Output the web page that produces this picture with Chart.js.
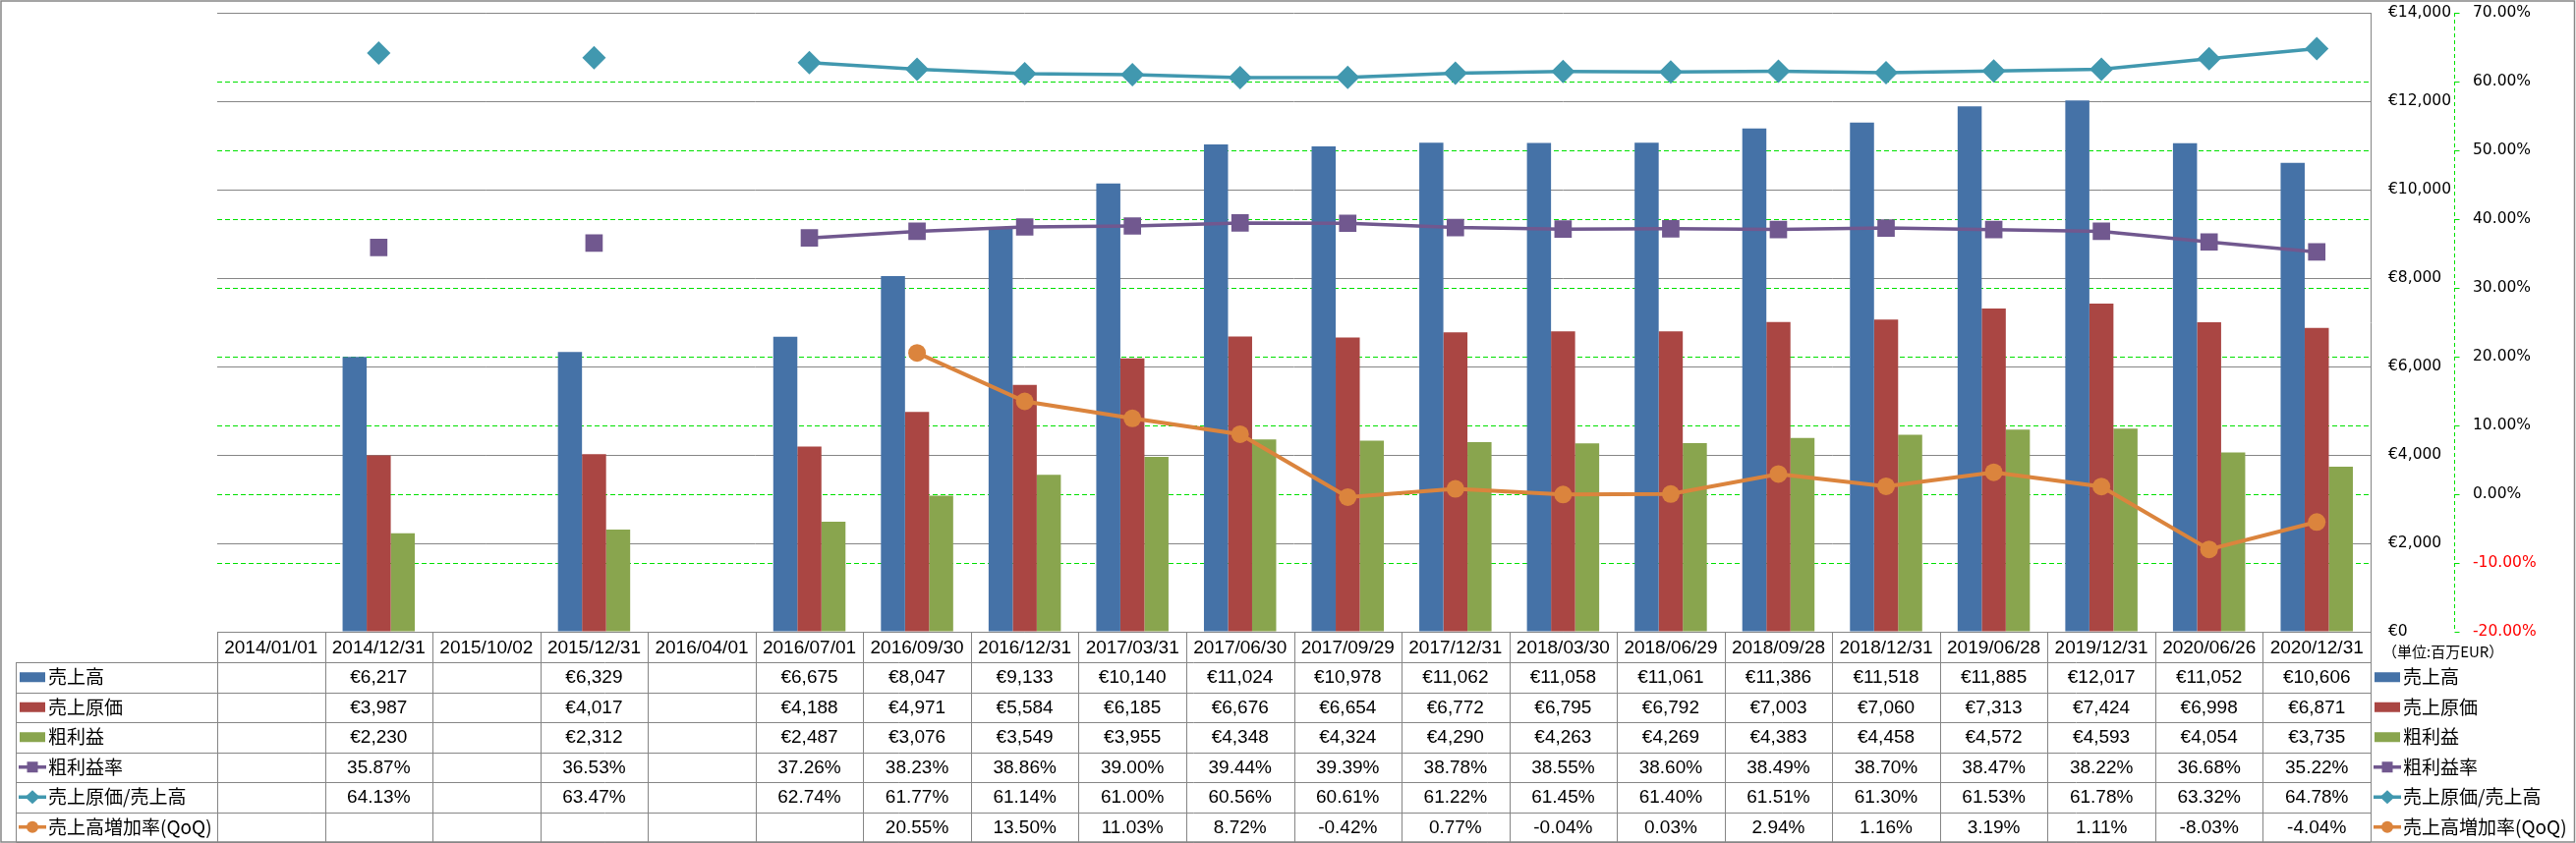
<!DOCTYPE html>
<html><head><meta charset="utf-8">
<script src="https://cdn.jsdelivr.net/npm/chart.js@4"></script>
<style>html,body{margin:0;padding:0;background:#fff;overflow:hidden}canvas{display:block}</style>
</head><body>
<canvas id="c" width="2621" height="858"></canvas>
<script>
const categories = ['2014/01/01','2014/12/31','2015/10/02','2015/12/31','2016/04/01','2016/07/01','2016/09/30','2016/12/31','2017/03/31','2017/06/30','2017/09/29','2017/12/31','2018/03/30','2018/06/29','2018/09/28','2018/12/31','2019/06/28','2019/12/31','2020/06/26','2020/12/31'];
const sales       = [null,6217,null,6329,null,6675,8047,9133,10140,11024,10978,11062,11058,11061,11386,11518,11885,12017,11052,10606];
const costOfSales = [null,3987,null,4017,null,4188,4971,5584,6185,6676,6654,6772,6795,6792,7003,7060,7313,7424,6998,6871];
const grossProfit = [null,2230,null,2312,null,2487,3076,3549,3955,4348,4324,4290,4263,4269,4383,4458,4572,4593,4054,3735];
const grossMargin = [null,35.87,null,36.53,null,37.26,38.23,38.86,39.00,39.44,39.39,38.78,38.55,38.60,38.49,38.70,38.47,38.22,36.68,35.22];
const costRatio   = [null,64.13,null,63.47,null,62.74,61.77,61.14,61.00,60.56,60.61,61.22,61.45,61.40,61.51,61.30,61.53,61.78,63.32,64.78];
const salesQoQ    = [null,null,null,null,null,null,20.55,13.50,11.03,8.72,-0.42,0.77,-0.04,0.03,2.94,1.16,3.19,1.11,-8.03,-4.04];
const seriesNames = ['売上高','売上原価','粗利益','粗利益率','売上原価/売上高','売上高増加率(QoQ)'];
const unitLabel = '（単位:百万EUR）';

const BLUE='#4572A7', RED='#AA4643', GREEN='#89A54E', PURPLE='#71588F', TEAL='#4198AF', ORANGE='#DB843D';
const GRID='#868686', DASHGREEN='#00E000';
const fmtMoney = v => '€' + v.toLocaleString('en-US');
const fmtPct = v => v.toFixed(2) + '%';

const rows = [
  {name:seriesNames[0], data:sales, fmt:fmtMoney, color:BLUE, kind:'bar'},
  {name:seriesNames[1], data:costOfSales, fmt:fmtMoney, color:RED, kind:'bar'},
  {name:seriesNames[2], data:grossProfit, fmt:fmtMoney, color:GREEN, kind:'bar'},
  {name:seriesNames[3], data:grossMargin, fmt:fmtPct, color:PURPLE, kind:'square'},
  {name:seriesNames[4], data:costRatio, fmt:fmtPct, color:TEAL, kind:'diamond'},
  {name:seriesNames[5], data:salesQoQ, fmt:fmtPct, color:ORANGE, kind:'circle'}
];

function drawKey(ctx, row, x, cy) {
  ctx.save();
  ctx.fillStyle = row.color; ctx.strokeStyle = row.color;
  if (row.kind === 'bar') {
    ctx.fillRect(x, cy - 5, 26, 10);
  } else {
    ctx.lineWidth = 3.5;
    ctx.beginPath(); ctx.moveTo(x - 1, cy); ctx.lineTo(x + 27, cy); ctx.stroke();
    const mx = x + 13;
    ctx.beginPath();
    if (row.kind === 'square') { ctx.rect(mx - 5.5, cy - 5.5, 11, 11); }
    else if (row.kind === 'diamond') { ctx.moveTo(mx, cy - 7); ctx.lineTo(mx + 7.5, cy); ctx.lineTo(mx, cy + 7); ctx.lineTo(mx - 7.5, cy); ctx.closePath(); }
    else { ctx.arc(mx, cy, 6, 0, Math.PI * 2); }
    ctx.fill();
  }
  ctx.restore();
}

const tablePlugin = {
  id: 'dataTable',
  afterDraw(chart) {
    const ctx = chart.ctx;
    const xs = chart.scales.x, y1 = chart.scales.y1;
    const area = chart.chartArea;
    const n = categories.length;
    const colW = (xs.right - xs.left) / n;
    const top = area.bottom, headH = 31, rowH = 30.5;
    const headBottom = top + headH;
    const bottom = headBottom + rowH * rows.length;
    const legendLeft = 16.5;
    ctx.save();
    // secondary axis dashed line + short tick marks
    ctx.strokeStyle = DASHGREEN; ctx.lineWidth = 1; ctx.setLineDash([4,3]);
    const ax = Math.round(y1.left) + 0.5;
    ctx.beginPath(); ctx.moveTo(ax, y1.top); ctx.lineTo(ax, y1.bottom); ctx.stroke();
    ctx.setLineDash([]);
    ctx.beginPath();
    y1.ticks.forEach(t => {
      const ty = Math.round(y1.getPixelForValue(t.value)) + 0.5;
      ctx.moveTo(ax, ty); ctx.lineTo(ax + 5, ty);
    });
    ctx.stroke();
    // table grid
    ctx.strokeStyle = GRID; ctx.lineWidth = 1;
    ctx.beginPath();
    ctx.moveTo(xs.left, Math.round(top) + 0.5); ctx.lineTo(xs.right, Math.round(top) + 0.5);
    for (let r = 0; r <= rows.length; r++) {
      const yy = Math.round(headBottom + r * rowH) + 0.5;
      ctx.moveTo(legendLeft, yy); ctx.lineTo(xs.right, yy);
    }
    ctx.moveTo(legendLeft, headBottom); ctx.lineTo(legendLeft, bottom);
    for (let i = 0; i <= n; i++) {
      const xx = Math.round(i < n ? xs.getPixelForValue(i) - colW / 2 : xs.getPixelForValue(n - 1) + colW / 2) + 0.5;
      ctx.moveTo(xx, top); ctx.lineTo(xx, bottom);
    }
    ctx.stroke();
    // header texts
    ctx.fillStyle = '#000'; ctx.textAlign = 'center'; ctx.textBaseline = 'middle';
    ctx.font = "19px 'Liberation Sans', 'DejaVu Sans', sans-serif";
    for (let i = 0; i < n; i++) {
      ctx.fillText(categories[i], xs.getPixelForValue(i), top + headH / 2 + 1);
    }
    rows.forEach((row, r) => {
      const cy = headBottom + r * rowH + rowH / 2 + 1;
      for (let i = 0; i < n; i++) {
        const v = row.data[i];
        if (v !== null && v !== undefined) ctx.fillText(row.fmt(v), xs.getPixelForValue(i), cy);
      }
    });
    // row legends
    ctx.textAlign = 'left';
    ctx.font = "19px 'Noto Sans CJK JP', sans-serif";
    rows.forEach((row, r) => {
      const cy = headBottom + r * rowH + rowH / 2;
      drawKey(ctx, row, 20, cy);
      ctx.fillStyle = '#000';
      ctx.fillText(row.name, 49, cy);
    });
    // unit label
    ctx.font = "15px 'Noto Sans CJK JP', sans-serif";
    ctx.fillText(unitLabel, 2424, top + 20);
    // right legend
    ctx.font = "19px 'Noto Sans CJK JP', sans-serif";
    rows.forEach((row, r) => {
      const cy = headBottom + r * rowH + rowH / 2;
      drawKey(ctx, row, 2416, cy);
      ctx.fillStyle = '#000';
      ctx.fillText(row.name, 2445, cy);
    });
    // chart frame
    ctx.strokeStyle = GRID; ctx.lineWidth = 1.5;
    ctx.strokeRect(1, 1, chart.width - 2.5, chart.height - 2);
    ctx.restore();
  }
};

new Chart(document.getElementById('c'), {
  type: 'bar',
  data: {
    labels: categories,
    datasets: [
      {type:'line', label:seriesNames[3], data:grossMargin, yAxisID:'y1', borderColor:PURPLE, backgroundColor:PURPLE, borderWidth:3.5, tension:0, pointStyle:'rect', pointRadius:12.5, pointBackgroundColor:PURPLE, pointBorderColor:PURPLE, pointBorderWidth:0, order:0},
      {type:'line', label:seriesNames[4], data:costRatio, yAxisID:'y1', borderColor:TEAL, backgroundColor:TEAL, borderWidth:3.5, tension:0, pointStyle:'rectRot', pointRadius:12, pointBackgroundColor:TEAL, pointBorderColor:TEAL, pointBorderWidth:0, order:0},
      {type:'line', label:seriesNames[5], data:salesQoQ, yAxisID:'y1', borderColor:ORANGE, backgroundColor:ORANGE, borderWidth:4, tension:0, pointStyle:'circle', pointRadius:9, pointBackgroundColor:ORANGE, pointBorderColor:ORANGE, pointBorderWidth:0, order:0},
      {type:'bar', label:seriesNames[0], data:sales, yAxisID:'y', backgroundColor:BLUE, borderWidth:0, categoryPercentage:0.671, barPercentage:1, order:1},
      {type:'bar', label:seriesNames[1], data:costOfSales, yAxisID:'y', backgroundColor:RED, borderWidth:0, categoryPercentage:0.671, barPercentage:1, order:1},
      {type:'bar', label:seriesNames[2], data:grossProfit, yAxisID:'y', backgroundColor:GREEN, borderWidth:0, categoryPercentage:0.671, barPercentage:1, order:1}
    ]
  },
  options: {
    responsive: false, animation: false, events: [],
    layout: { padding: { left: 221, top: 13, bottom: 215, right: 0 } },
    plugins: { legend: { display: false }, tooltip: { enabled: false } },
    scales: {
      x: { display: false, offset: true },
      y: {
        position: 'right', weight: 0, min: 0, max: 14000,
        afterFit: s => { s.width = 85; },
        ticks: { stepSize: 2000, padding: 2, color: '#000', font: { family: "'DejaVu Sans', sans-serif", size: 15.5 }, callback: v => fmtMoney(v) },
        grid: { color: GRID, lineWidth: 1, drawTicks: true, tickLength: 16, tickColor: 'rgba(0,0,0,0)' },
        border: { display: true, color: GRID, width: 1 }
      },
      y1: {
        position: 'right', weight: 1, min: -20, max: 70,
        afterFit: s => { s.width = 124; },
        ticks: { stepSize: 10, padding: 2, color: c => (c.tick && c.tick.value < 0) ? '#FF0000' : '#000', font: { family: "'DejaVu Sans', sans-serif", size: 15.5 }, callback: v => fmtPct(v) },
        grid: { color: c => (c.tick && (c.tick.value === -20 || c.tick.value === 70)) ? 'rgba(0,0,0,0)' : DASHGREEN, lineWidth: 1, drawTicks: true, tickLength: 17, tickColor: 'rgba(0,0,0,0)' },
        border: { display: false, dash: [5,3] }
      }
    }
  },
  plugins: [tablePlugin]
});
</script>
</body></html>
